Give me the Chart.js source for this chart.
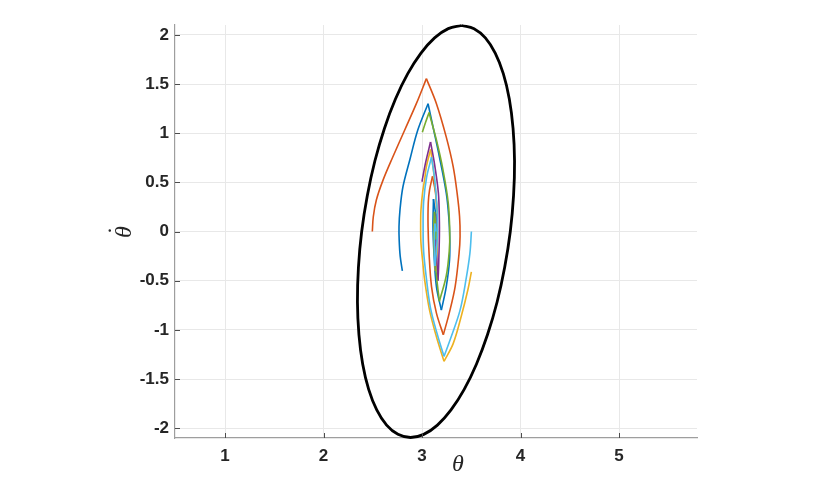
<!DOCTYPE html>
<html>
<head>
<meta charset="utf-8">
<script src="https://cdn.jsdelivr.net/npm/chart.js@4.4.1/dist/chart.umd.min.js"></script>
<style>
  html, body { margin: 0; padding: 0; background: #ffffff; }
  #wrap { width: 830px; height: 493px; }
</style>
</head>
<body>
<div id="wrap"><canvas id="c" width="830" height="493"></canvas></div>
<script>
// ---- Axis ticks ----
const xTickValues = [1, 2, 3, 4, 5];
const yTickValues = [-2, -1.5, -1, -0.5, 0, 0.5, 1, 1.5, 2];
const xLimits = [0.4916, 5.7916];
const yLimits = [-2.1, 2.1];
const xLabelText = 'θ';
const yLabelText = 'θ̇';

// ---- Region boundary (ellipse) ----
const ellipseTheta = [3.401, 3.528, 3.643, 3.743, 3.825, 3.886, 3.924, 3.939, 3.929, 3.896,
  3.839, 3.762, 3.665, 3.553, 3.428, 3.294, 3.156, 3.017, 2.883, 2.755,
  2.640, 2.540, 2.458, 2.397, 2.359, 2.344, 2.354, 2.387, 2.444, 2.521,
  2.618, 2.730, 2.855, 2.989, 3.127, 3.266, 3.401];
const ellipseOmega = [2.095, 2.063, 1.969, 1.814, 1.605, 1.347, 1.048, 0.717, 0.364, 0,
  -0.364, -0.717, -1.048, -1.347, -1.605, -1.814, -1.969, -2.063, -2.095, -2.063,
  -1.969, -1.814, -1.605, -1.347, -1.048, -0.717, -0.364, 0, 0.364, 0.717,
  1.048, 1.347, 1.605, 1.814, 1.969, 2.063, 2.095];

// ---- Trajectories ----
const traj1Theta = [2.800, 2.778, 2.768, 2.766, 2.776, 2.806, 2.876, 2.956, 3.061, 3.111, 3.176, 3.246, 3.271, 3.281, 3.279, 3.246, 3.196, 3.146, 3.121, 3.111, 3.116, 3.141, 3.151, 3.146, 3.138, 3.142];
const traj1Omega = [-0.40, -0.25, -0.09, 0.05, 0.22, 0.455, 0.73, 1.03, 1.30, 1.065, 0.76, 0.39, 0.15, -0.05, -0.29, -0.56, -0.80, -0.56, -0.22, 0.05, 0.33, 0.15, 0.0, -0.15, 0.0, 0.04];

const traj2Theta = [2.495, 2.505, 2.536, 2.603, 2.704, 2.823, 2.942, 3.044, 3.146, 3.246, 3.316, 3.356, 3.381, 3.386, 3.376, 3.336, 3.276, 3.216, 3.146, 3.096, 3.071, 3.061, 3.063, 3.076, 3.106, 3.136, 3.151, 3.156, 3.151, 3.140, 3.128, 3.126, 3.136, 3.143, 3.142];
const traj2Omega = [0.00, 0.15, 0.32, 0.52, 0.76, 1.03, 1.30, 1.555, 1.30, 0.96, 0.66, 0.39, 0.15, -0.05, -0.22, -0.56, -0.83, -1.05, -0.83, -0.56, -0.22, 0.05, 0.29, 0.42, 0.56, 0.40, 0.20, 0.0, -0.15, -0.28, -0.10, 0.05, 0.14, 0.05, 0.0];

const traj3Theta = [3.501, 3.466, 3.396, 3.316, 3.223, 3.146, 3.076, 3.026, 3.006, 2.988, 2.986, 2.989, 3.006, 3.026, 3.044, 3.087, 3.118, 3.146, 3.156, 3.151, 3.136, 3.126, 3.121, 3.126, 3.141];
const traj3Omega = [-0.41, -0.59, -0.87, -1.14, -1.32, -1.07, -0.80, -0.49, -0.30, -0.10, 0.12, 0.22, 0.40, 0.525, 0.66, 0.835, 0.60, 0.30, 0.0, -0.25, -0.40, -0.20, 0.0, 0.12, 0.0];

const traj4Theta = [2.999, 3.036, 3.086, 3.126, 3.166, 3.176, 3.176, 3.171, 3.166, 3.161, 3.151, 3.141, 3.141, 3.146, 3.151, 3.148, 3.142];
const traj4Omega = [0.506, 0.70, 0.91, 0.69, 0.39, 0.10, -0.05, -0.25, -0.42, -0.50, -0.30, -0.10, 0.10, 0.18, 0.05, -0.08, 0.0];

const traj5Theta = [3.003, 3.036, 3.071, 3.146, 3.213, 3.266, 3.281, 3.276, 3.246, 3.176, 3.146, 3.126, 3.121, 3.126, 3.141, 3.143, 3.138];
const traj5Omega = [1.01, 1.11, 1.21, 0.93, 0.625, 0.29, 0.0, -0.20, -0.45, -0.71, -0.45, -0.20, 0.05, 0.20, 0.05, -0.08, 0.0];

const traj6Theta = [3.501, 3.486, 3.446, 3.386, 3.296, 3.223, 3.156, 3.086, 3.041, 3.016, 3.011, 3.016, 3.046, 3.096, 3.126, 3.151, 3.156, 3.146, 3.131, 3.126, 3.126, 3.131, 3.141];
const traj6Omega = [0.0, -0.22, -0.49, -0.80, -1.07, -1.27, -1.05, -0.78, -0.45, -0.20, 0.05, 0.30, 0.55, 0.755, 0.55, 0.25, 0.0, -0.20, -0.35, -0.15, 0.0, 0.08, 0.0];

const trajColors = ['#0072BD', '#D95319', '#EDB120', '#7E2F8E', '#77AC30', '#4DBEEE'];

function pts(xs, ys) { return xs.map((x, i) => ({ x: x, y: ys[i] })); }

// split a trajectory at its cusps (turning points of omega) so each arc is smoothed on its own
function arcs(xs, ys) {
  const out = [];
  let start = 0;
  for (let i = 1; i < ys.length - 1; i++) {
    if ((ys[i] - ys[i - 1]) * (ys[i + 1] - ys[i]) < 0) {
      out.push(pts(xs.slice(start, i + 1), ys.slice(start, i + 1)));
      start = i;
    }
  }
  out.push(pts(xs.slice(start), ys.slice(start)));
  return out;
}

const trajList = [
  [traj1Theta, traj1Omega], [traj2Theta, traj2Omega], [traj3Theta, traj3Omega],
  [traj4Theta, traj4Omega], [traj5Theta, traj5Omega], [traj6Theta, traj6Omega]
];

const datasets = [{
  label: 'boundary',
  data: pts(ellipseTheta, ellipseOmega),
  showLine: true, borderColor: '#000000', borderWidth: 2.8,
  pointRadius: 0, tension: 0.4, clip: false, order: 0
}];
trajList.forEach((t, i) => {
  arcs(t[0], t[1]).forEach((seg, k) => {
    datasets.push({
      label: 'traj' + (i + 1) + '_' + k,
      data: seg,
      showLine: true, borderColor: trajColors[i], borderWidth: 1.6,
      pointRadius: 0, tension: 0.35, order: 10 - i
    });
  });
});

const decor = {
  id: 'decor',
  afterDraw(chart) {
    const ctx = chart.ctx, a = chart.chartArea;
    const xs = chart.scales.x, ys = chart.scales.y;
    ctx.save();
    ctx.strokeStyle = '#4d4d4d';
    ctx.lineWidth = 1;
    xTickValues.forEach(v => {
      const p = Math.round(xs.getPixelForValue(v)) + 0.5;
      ctx.beginPath(); ctx.moveTo(p, a.bottom); ctx.lineTo(p, a.bottom - 5); ctx.stroke();
    });
    yTickValues.forEach(v => {
      const p = Math.round(ys.getPixelForValue(v)) + 0.5;
      ctx.beginPath(); ctx.moveTo(a.left, p); ctx.lineTo(a.left + 5, p); ctx.stroke();
    });
    ctx.fillStyle = '#262626';
    ctx.font = 'italic 24px "Liberation Serif", "DejaVu Serif", serif';
    ctx.textAlign = 'center';
    ctx.textBaseline = 'middle';
    ctx.fillText(xLabelText, 458, 465);
    // y label: theta with a dot above it (rotated)
    ctx.translate(125, 232);
    ctx.rotate(-Math.PI / 2);
    ctx.fillText(yLabelText.charAt(0), 0, 0);
    ctx.fillText('˙', 0, -7);
    ctx.restore();
  }
};

new Chart(document.getElementById('c'), {
  type: 'scatter',
  data: { datasets: datasets },
  options: {
    responsive: false,
    animation: false,
    events: [],
    layout: { padding: { left: 0, top: 25, right: 133, bottom: 0 } },
    plugins: { legend: { display: false }, tooltip: { enabled: false } },
    scales: {
      x: {
        type: 'linear', min: xLimits[0], max: xLimits[1],
        afterBuildTicks: s => { s.ticks = xTickValues.map(v => ({ value: v })); },
        afterFit: s => { s.height = 55; },
        ticks: {
          includeBounds: false, padding: 8, color: '#262626',
          font: { family: '"Liberation Sans", Arial, sans-serif', size: 17, weight: 'bold' },
          callback: v => String(v), maxRotation: 0, autoSkip: false
        },
        grid: { color: '#e8e8e8', lineWidth: 1, drawTicks: false },
        border: { display: true, color: '#9e9e9e', width: 1.2 }
      },
      y: {
        type: 'linear', min: yLimits[0], max: yLimits[1],
        afterBuildTicks: s => { s.ticks = yTickValues.map(v => ({ value: v })); },
        afterFit: s => { s.width = 175; },
        ticks: {
          includeBounds: false, padding: 6, color: '#262626',
          font: { family: '"Liberation Sans", Arial, sans-serif', size: 17, weight: 'bold' },
          callback: v => String(v), autoSkip: false
        },
        grid: { color: '#e8e8e8', lineWidth: 1, drawTicks: false },
        border: { display: true, color: '#9e9e9e', width: 1.2 }
      }
    }
  },
  plugins: [decor]
});
</script>
</body>
</html>
